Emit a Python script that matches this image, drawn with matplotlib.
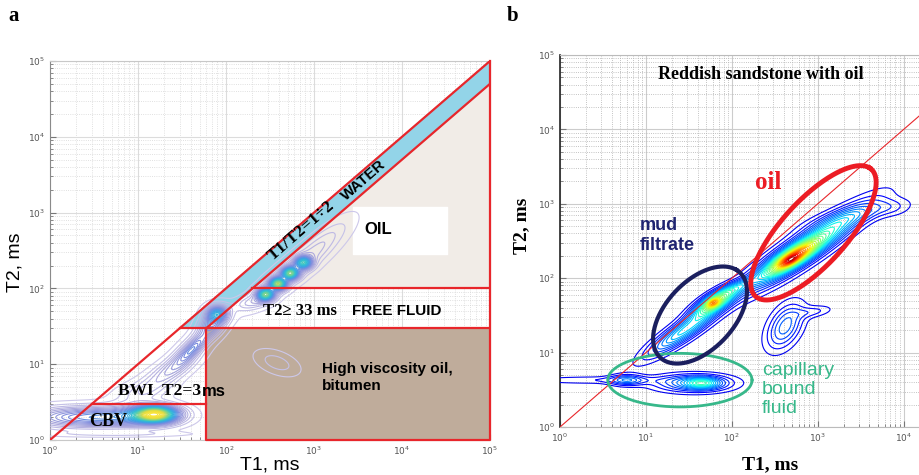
import numpy as np
import matplotlib.pyplot as plt
from matplotlib.colors import LinearSegmentedColormap
from matplotlib.ticker import LogLocator, FuncFormatter, NullFormatter

SERIF = "Liberation Serif"
SANS = "Liberation Sans"
RED = "#e8262b"

# T1-T2 map components: (log10 T1, log10 T2, sigma along, sigma across, angle deg, amplitude)
COMP_A = [
    (0.15, 0.30, 0.30, 0.09, 0, 0.22),   # CBV plateau
    (0.55, 0.30, 0.30, 0.09, 0, 0.24),
    (0.95, 0.31, 0.30, 0.09, 0, 0.28),
    (0.75, 0.08, 0.55, 0.025, 0, 0.06),
    (1.20, 0.34, 0.17, 0.075, 0, 1.00),  # CBV core
    (1.05, 0.62, 0.22, 0.10, 15, 0.10),
    (1.35, 0.90, 0.25, 0.09, 35, 0.16),
    (1.60, 1.20, 0.25, 0.08, 50, 0.20),
    (1.62, 1.20, 0.14, 0.045, 50, 0.18),
    (1.85, 1.55, 0.14, 0.09, 60, 0.30),
    (1.90, 1.67, 0.08, 0.07, 0, 0.40),
    (2.30, 1.82, 0.14, 0.06, 15, 0.12),
    (2.45, 1.92, 0.065, 0.055, 0, 0.75),
    (2.59, 2.06, 0.065, 0.055, 0, 0.80),
    (2.73, 2.20, 0.065, 0.055, 0, 0.72),
    (2.88, 2.34, 0.065, 0.055, 0, 0.58),
    (2.75, 2.22, 0.40, 0.10, 42, 0.14),
    (3.10, 2.62, 0.30, 0.09, 45, 0.08),
    (2.58, 1.02, 0.17, 0.09, -25, 0.08),  # bitumen blob
]

COMP_B = [
    (0.40, 0.63, 0.55, 0.035, 0, 0.06),  # capillary tail
    (0.78, 0.63, 0.13, 0.05, 0, 0.15),
    (1.55, 0.59, 0.30, 0.08, 0, 0.20),
    (1.66, 0.59, 0.14, 0.05, 0, 0.22),
    (1.45, 1.30, 0.35, 0.08, 38, 0.30),  # mud filtrate
    (1.80, 1.68, 0.20, 0.07, 35, 0.45),
    (1.78, 1.67, 0.06, 0.04, 30, 0.25),
    (2.05, 1.88, 0.18, 0.05, 25, 0.12),
    (2.85, 2.40, 0.55, 0.11, 38, 0.45),  # oil
    (2.70, 2.27, 0.22, 0.07, 35, 0.45),
    (2.68, 2.24, 0.08, 0.035, 35, 0.15),
    (3.45, 2.85, 0.40, 0.08, 15, 0.07),
    (3.85, 2.95, 0.15, 0.08, 0, 0.04),
    (2.62, 1.35, 0.22, 0.12, 65, 0.18),  # small blob
    (2.95, 1.55, 0.15, 0.05, 10, 0.07),
]

# ellipses around fluid groups: (log T1, log T2, semi-major, semi-minor, angle deg, colour, width)
ELLIPSES_B = [
    (1.395, 0.63, 0.84, 0.36, 0, "#37b88a", 2.0),
    (1.63, 1.505, 0.74, 0.42, 55, "#1b1f5e", 3.0),
    (2.95, 2.61, 1.09, 0.40, 53, "#ec1c24", 3.5),
]


def field(comps, u, v):
    z = np.zeros_like(u)
    for u0, v0, sa, sb, ang, amp in comps:
        t = np.deg2rad(ang)
        a = (u - u0) * np.cos(t) + (v - v0) * np.sin(t)
        b = -(u - u0) * np.sin(t) + (v - v0) * np.cos(t)
        z += amp * np.exp(-0.5 * (a / sa) ** 2 - 0.5 * (b / sb) ** 2)
    return z / z.max()


def decade_fmt(x, pos):
    return r"$10^{%d}$" % round(np.log10(x))


def style_axes(ax, xmax, ymax, minor_color, major_color):
    ax.set_xscale("log")
    ax.set_yscale("log")
    ax.set_xlim(1, xmax)
    ax.set_ylim(1, ymax)
    for a in (ax.xaxis, ax.yaxis):
        a.set_major_locator(LogLocator(base=10, numticks=10))
        a.set_minor_locator(LogLocator(base=10, subs=np.arange(2, 10), numticks=10))
        a.set_major_formatter(FuncFormatter(decade_fmt))
        a.set_minor_formatter(NullFormatter())
    ax.grid(True, which="major", color=major_color, lw=0.8, ls="-")
    ax.grid(True, which="minor", color=minor_color, lw=0.6, ls=":")
    ax.tick_params(which="both", direction="in", labelsize=6.5, labelcolor="#555555",
                   color="#777777", length=2.5)
    ax.tick_params(which="major", length=4)
    ax.set_axisbelow(True)


fig = plt.figure(figsize=(9.2, 4.75), dpi=100)

# ---- panel a ----
ax = fig.add_axes([50 / 920, 1 - 440 / 475, 440 / 920, 379 / 475])
style_axes(ax, 1e5, 1e5, "#d6d6d6", "#dcdcdc")
for s in ax.spines.values():
    s.set_color("#c8c8c8")
ax.spines["left"].set_color("#8a8a8a")

# zone fills
ax.fill([200, 1e5, 1e5], [100, 100, 5e4], color="#f1ece7", zorder=1)
ax.fill_between([10 ** 3.44, 10 ** 4.51], 10 ** 2.46, 10 ** 3.07, color="white", zorder=1.5)
ax.fill([30, 60, 1e5, 1e5], [30, 30, 5e4, 1e5], color="#93d4e8", zorder=2)
ax.fill_between([60, 1e5], 1, 30, color="#bfac9b", zorder=1)

ua = np.linspace(0, 5, 500)
U, V = np.meshgrid(ua, ua)
Za = field(COMP_A, U, V)
cmap_a = LinearSegmentedColormap.from_list(
    "parula_soft", ["#cdc8ea", "#aaa6dc", "#7d8bde", "#3f9fe6", "#2fc3d0",
                    "#7fd488", "#e6dc3c", "#fbe43a"])
ax.contour(10 ** U, 10 ** V, Za, levels=np.linspace(0.015, 0.97, 32), cmap=cmap_a,
           linewidths=0.8, zorder=3)

# zone boundaries
lw = 1.6
ax.plot([1, 1e5], [1, 1e5], color=RED, lw=lw, zorder=4)
ax.plot([60, 1e5], [30, 5e4], color=RED, lw=lw, zorder=4)
ax.plot([30, 1e5], [30, 30], color=RED, lw=lw, zorder=4)
ax.plot([3, 60], [3, 3], color=RED, lw=lw, zorder=4)
ax.plot([200, 1e5], [100, 100], color=RED, lw=lw, zorder=4)
ax.plot([60, 60, 1e5, 1e5], [30, 1, 1, 1e5], color=RED, lw=lw, zorder=4, clip_on=False)

ax.text(10 ** 2.86, 10 ** 2.76, "T1/T2=1÷2", family=SERIF, weight="bold", fontsize=12.5,
        rotation=41, ha="center", va="center", zorder=5)
ax.text(10 ** 3.56, 10 ** 3.42, "WATER", family=SANS, weight="bold", fontsize=11,
        rotation=41, ha="center", va="center", zorder=5)
ax.text(10 ** 3.73, 10 ** 2.78, "OIL", family=SANS, weight="bold", fontsize=12,
        ha="center", va="center", zorder=5)
ax.text(10 ** 2.42, 10 ** 1.70, "T2≥ 33 ms", family=SERIF, weight="bold", fontsize=12,
        ha="left", va="center", zorder=5)
ax.text(10 ** 3.43, 10 ** 1.70, "FREE FLUID", family=SANS, weight="bold", fontsize=11,
        ha="left", va="center", zorder=5)
ax.text(10 ** 3.09, 10 ** 0.82, "High viscosity oil,\nbitumen", family=SANS, weight="bold",
        fontsize=11, ha="left", va="center", linespacing=1.3, zorder=5)
bwi = ax.text(10 ** 0.77, 10 ** 0.64, "BWI  T2=3", family=SERIF, weight="bold", fontsize=12.5,
              ha="left", va="center", zorder=5)
ax.annotate("ms", xy=(1, 0.5), xycoords=bwi, xytext=(1, 0), textcoords="offset points",
            family=SANS, weight="bold", fontsize=12, ha="left", va="center", zorder=5)
ax.text(10 ** 0.44, 10 ** 0.24, "CBV", family=SERIF, weight="bold", fontsize=13,
        ha="left", va="center", zorder=5)

ax.set_xlabel("T1, ms", family=SANS, fontsize=14, va="center")
ax.set_ylabel("T2, ms", family=SANS, fontsize=14, va="center")
ax.xaxis.set_label_coords(0.5, -0.066)
ax.yaxis.set_label_coords(-0.08, 0.47)

# ---- panel b ----
bx = fig.add_axes([560 / 920, 1 - 427 / 475, 360 / 920, 372 / 475])
style_axes(bx, 10 ** 4.19, 1e5, "#b0b0b0", "#cccccc")
for s in bx.spines.values():
    s.set_color("#bbbbbb")
bx.spines["left"].set_color("#222222")
bx.spines["left"].set_linewidth(1.2)

ub = np.linspace(0, 4.2, 450)
vb = np.linspace(0, 5, 450)
Ub, Vb = np.meshgrid(ub, vb)
Zb = field(COMP_B, Ub, Vb)
jet = plt.get_cmap("jet")
cmap_b = LinearSegmentedColormap.from_list("jet_cut", jet(np.linspace(0.1, 0.95, 256)))
bx.contour(10 ** Ub, 10 ** Vb, Zb, levels=np.linspace(0.03, 0.97, 30), cmap=cmap_b,
           linewidths=0.8, zorder=3)

bx.plot([1, 10 ** 4.19], [1, 10 ** 4.19], color=RED, lw=0.8, zorder=4)

t = np.linspace(0, 2 * np.pi, 300)
for u0, v0, sa, sb, ang, col, w in ELLIPSES_B:
    th = np.deg2rad(ang)
    eu = u0 + sa * np.cos(t) * np.cos(th) - sb * np.sin(t) * np.sin(th)
    ev = v0 + sa * np.cos(t) * np.sin(th) + sb * np.sin(t) * np.cos(th)
    bx.plot(10 ** eu, 10 ** ev, color=col, lw=w, zorder=5)

bx.text(10 ** 2.34, 10 ** 4.74, "Reddish sandstone with oil", family=SERIF, weight="bold",
        fontsize=13, ha="center", va="center", zorder=6)
bx.text(10 ** 2.42, 10 ** 3.29, "oil", family=SERIF, weight="bold", fontsize=18,
        color="#ec1c24", ha="center", va="center", zorder=6)
bx.text(10 ** 0.93, 10 ** 2.57, "mud\nfiltrate", family=SANS, weight="bold", fontsize=13,
        color="#1f2470", ha="left", va="center", linespacing=1.25, zorder=6)
bx.text(10 ** 2.35, 10 ** 0.50, "capillary\nbound\nfluid", family=SANS, fontsize=14,
        color="#37b88a", ha="left", va="center", linespacing=1.15, zorder=6)

bx.set_xlabel("T1, ms", family=SERIF, weight="bold", fontsize=14, va="center")
bx.set_ylabel("T2, ms", family=SERIF, weight="bold", fontsize=14, va="center")
bx.xaxis.set_label_coords(0.583, -0.102)
bx.yaxis.set_label_coords(-0.106, 0.54)

fig.text(8 / 920, 1 - 16 / 475, "a", family=SERIF, weight="bold", fontsize=15, va="center")
fig.text(507 / 920, 1 - 16 / 475, "b", family=SERIF, weight="bold", fontsize=15, va="center")

fig.savefig("out.png", dpi=100)
